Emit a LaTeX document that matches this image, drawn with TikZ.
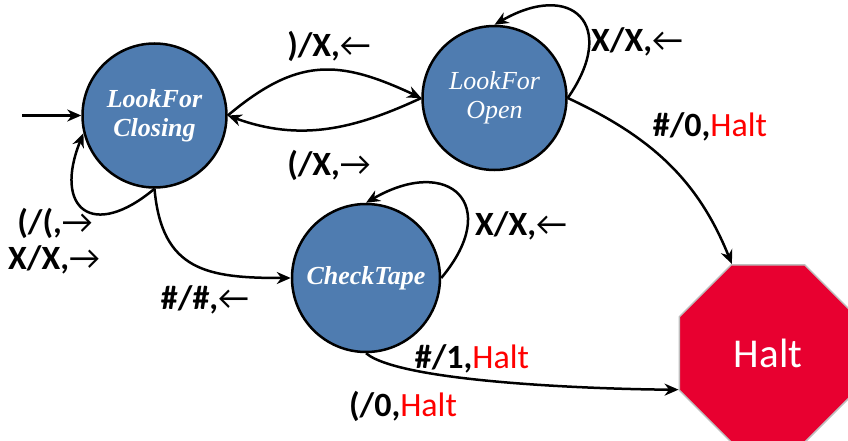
\documentclass[tikz,border=0pt]{standalone}
\usepackage{fontspec}
\setmainfont{Carlito}
\newfontfamily\statefont{Liberation Serif}
\usepackage{tikz}
\usetikzlibrary{shapes.geometric,arrows.meta,positioning}
\definecolor{stateBlue}{RGB}{79,124,176}
\definecolor{haltRed}{RGB}{232,0,48}
\definecolor{haltRim}{RGB}{190,190,190}
\definecolor{haltText}{RGB}{255,0,0}
\newcommand{\mvL}{{\mdseries ←}}
\newcommand{\mvR}{{\mdseries →}}
\newcommand{\hlt}{{\mdseries\color{haltText}Halt}}

\begin{document}
\begin{tikzpicture}[x=1pt, y=1pt,
    state/.style={circle, draw=black, line width=2.5pt, fill=stateBlue, text=white,
      align=center, inner sep=0pt,
      font=\statefont\itshape\bfseries\fontsize{26}{29}\selectfont},
    lbl/.style={inner sep=0pt, font=\bfseries\fontsize{34}{36}\selectfont},
    edge/.style={-{Stealth[length=14pt,width=12pt]}, line width=2.5pt}
  ]
    \useasboundingbox (0,0) rectangle (848,440);
    % States
    \node[state, minimum size=144pt] (lfc) at (154.5,324.5) {LookFor\\Closing};
    \node[state, minimum size=144pt, font=\statefont\itshape\fontsize{26}{29}\selectfont]
      (lfo) at (494.5,342) {LookFor\\Open};
    \node[state, minimum size=148pt] (ct) at (366,162) {CheckTape};
    \node[regular polygon, regular polygon sides=8, minimum size=192pt, inner sep=0pt,
      fill=haltRed, draw=haltRim, line width=1.5pt, text=white,
      font=\fontsize{41}{44}\selectfont] (halt) at (768,86.5) {Halt};
    \coordinate (init) at (22,324.5);
    % Transitions
    \draw[edge] (init) -- (lfc.west);
    \draw[edge] (lfc.east) to[out=40, in=155, looseness=1.2] (lfo.west);
    \draw[edge] (lfo.west) to[out=205, in=-20] (lfc.east);
    \draw[edge] (lfc.south) to[out=220, in=-112, looseness=2.3] (lfc.194);
    \draw[edge] (lfo.east) to[out=55, in=30, looseness=2.2] (lfo.north);
    \draw[edge] (lfc.south) to[out=-85, in=180, looseness=1.3] (ct.west);
    \draw[edge] (ct.east) to[out=50, in=30, looseness=2.3] (ct.north);
    \draw[edge] (lfo.east) to[out=-25, in=112] (halt.112.5);
    \draw[edge] (ct.south) to[out=-40, in=180, looseness=0.4] (halt.202.5);
    % Labels
    \node[lbl] (l1) at (329,394) {)/X,\mvL};
    \node[lbl] (l2) at (329,275) {(/X,\mvR};
    \node[lbl] (l3) at (637,398) {X/X,\mvL};
    \node[lbl] (l4) at (710,313) {\#/0,\hlt};
    \node[lbl] (l5) at (55,217) {(/(,\mvR};
    \node[lbl] (l6) at (54,180) {X/X,\mvR};
    \node[lbl] (l7) at (205,140) {\#/\#,\mvL};
    \node[lbl] (l8) at (521,214) {X/X,\mvL};
    \node[lbl] (l9) at (472,81) {\#/1,\hlt};
    \node[lbl] (l10) at (403,34) {(/0,\hlt};
  \end{tikzpicture}
\end{document}
